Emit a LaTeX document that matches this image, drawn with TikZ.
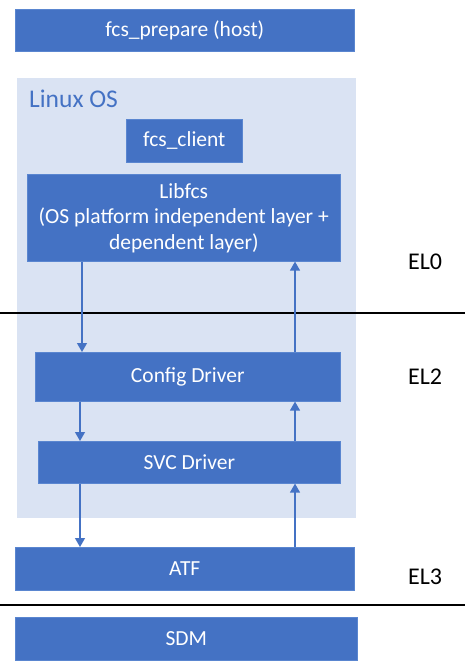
\documentclass[tikz,border=0pt]{standalone}
\usepackage{fontspec}
\setmainfont{Carlito}
\usetikzlibrary{arrows.meta}
\definecolor{boxblue}{HTML}{4472C4}
\definecolor{boxedge}{HTML}{5A86D0}
\definecolor{osbg}{HTML}{DAE3F3}
\tikzset{
  blk/.style={fill=boxblue, draw=boxedge, line width=0.6pt, text=white, font=\fontsize{21.5}{25.5}\selectfont, align=center, inner sep=0pt, anchor=north west},
  flow/.style={draw=boxblue, line width=1.3pt, -{Triangle[width=10pt,length=9pt]}},
  elabel/.style={font=\fontsize{24}{28}\selectfont, text=black, inner sep=0pt},
  sep/.style={draw=black, line width=1.2pt}
}
\begin{document}
\begin{tikzpicture}[x=1pt,y=-1pt]
\useasboundingbox (0,0) rectangle (471,668);
% Linux OS background
\node[fill=osbg, inner sep=0pt, anchor=north west, minimum width=339pt, minimum height=440pt] (os) at (17,78) {};
\node[anchor=west, text=boxblue, font=\fontsize{25.5}{30}\selectfont, inner sep=0pt] (oslabel) at (29,99) {Linux OS};
% boxes
\node[blk, minimum width=339pt, minimum height=42pt] (prep) at (15,9) {fcs\_prepare (host)};
\node[blk, minimum width=116pt, minimum height=43pt] (client) at (126,119) {fcs\_client};
\node[blk, minimum width=313pt, minimum height=87pt] (lib) at (27,174) {Libfcs\\(OS platform independent layer +\\dependent layer)};
\node[blk, minimum width=305pt, minimum height=49pt] (cfg) at (35,352) {Config Driver};
\node[blk, minimum width=302pt, minimum height=42pt] (svc) at (38,441) {SVC Driver};
\node[blk, minimum width=339pt, minimum height=43pt] (atf) at (15,547) {ATF};
\node[blk, minimum width=342pt, minimum height=43pt] (sdm) at (15,617) {SDM};
% EL labels
\node[elabel, anchor=west] (el0) at (408,262) {EL0};
\node[elabel, anchor=west] (el2) at (408,377) {EL2};
\node[elabel, anchor=west] (el3) at (408,577) {EL3};
% separators
\coordinate (s1l) at (0,313);
\coordinate (s1r) at (465,313);
\coordinate (s2l) at (0,605);
\coordinate (s2r) at (465,605);
\draw[sep] (s1l) -- (s1r);
\draw[sep] (s2l) -- (s2r);
% arrows
\coordinate (xa) at (82,0);
\coordinate (xb) at (80,0);
\coordinate (xu) at (295,0);
\draw[flow] (lib.south -| xa) -- (cfg.north -| xa);
\draw[flow] (cfg.south -| xb) -- (svc.north -| xb);
\draw[flow] (svc.south -| xb) -- (atf.north -| xb);
\draw[flow] (atf.north -| xu) -- (svc.south -| xu);
\draw[flow] (svc.north -| xu) -- (cfg.south -| xu);
\draw[flow] (cfg.north -| xu) -- (lib.south -| xu);
\end{tikzpicture}
\end{document}
